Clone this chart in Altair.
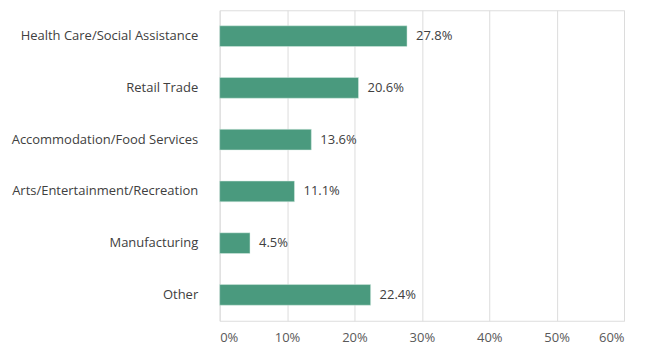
import altair as alt
import pandas as pd

categories = ["Health Care/Social Assistance", "Retail Trade", "Accommodation/Food Services",
              "Arts/Entertainment/Recreation", "Manufacturing", "Other"]
values = [0.278, 0.206, 0.136, 0.111, 0.045, 0.224]
labels = ["27.8%", "20.6%", "13.6%", "11.1%", "4.5%", "22.4%"]

df = pd.DataFrame({"category": categories, "value": values, "label": labels})

FONT = "Open Sans"
y = alt.Y("category:N", sort=categories, title=None,
          scale=alt.Scale(paddingInner=0.6, paddingOuter=0.3),
          axis=alt.Axis(domain=False, ticks=False, labelPadding=22, labelFontSize=13,
                        labelLimit=300, labelColor="#404040", labelFont=FONT, grid=False))
x = alt.X("value:Q", title=None,
          scale=alt.Scale(domain=[0, 0.6], nice=False),
          axis=alt.Axis(format=".0%", values=[0, 0.1, 0.2, 0.3, 0.4, 0.5, 0.6],
                        domain=False, ticks=False, labelPadding=11, labelFontSize=13,
                        labelColor="#595959", labelFont=FONT, gridColor="#dcdcdc",
                        gridWidth=1))

bars = alt.Chart(df).mark_bar(color="#4a9a7e", stroke="#d9ece4", strokeWidth=0.5).encode(x=x, y=y)
text = alt.Chart(df).mark_text(align="left", dx=9, fontSize=13, color="#404040", font=FONT).encode(
    x="value:Q", y=alt.Y("category:N", sort=categories), text="label:N")

chart = (bars + text).properties(
    width=405, height=311,
    autosize=alt.AutoSizeParams(type="none"),
    padding={"left": 212, "top": 2, "right": 20, "bottom": 26},
).configure_view(stroke=None).configure(background="white")

chart.save("out.html", embed_options={"renderer": "svg", "actions": False})
